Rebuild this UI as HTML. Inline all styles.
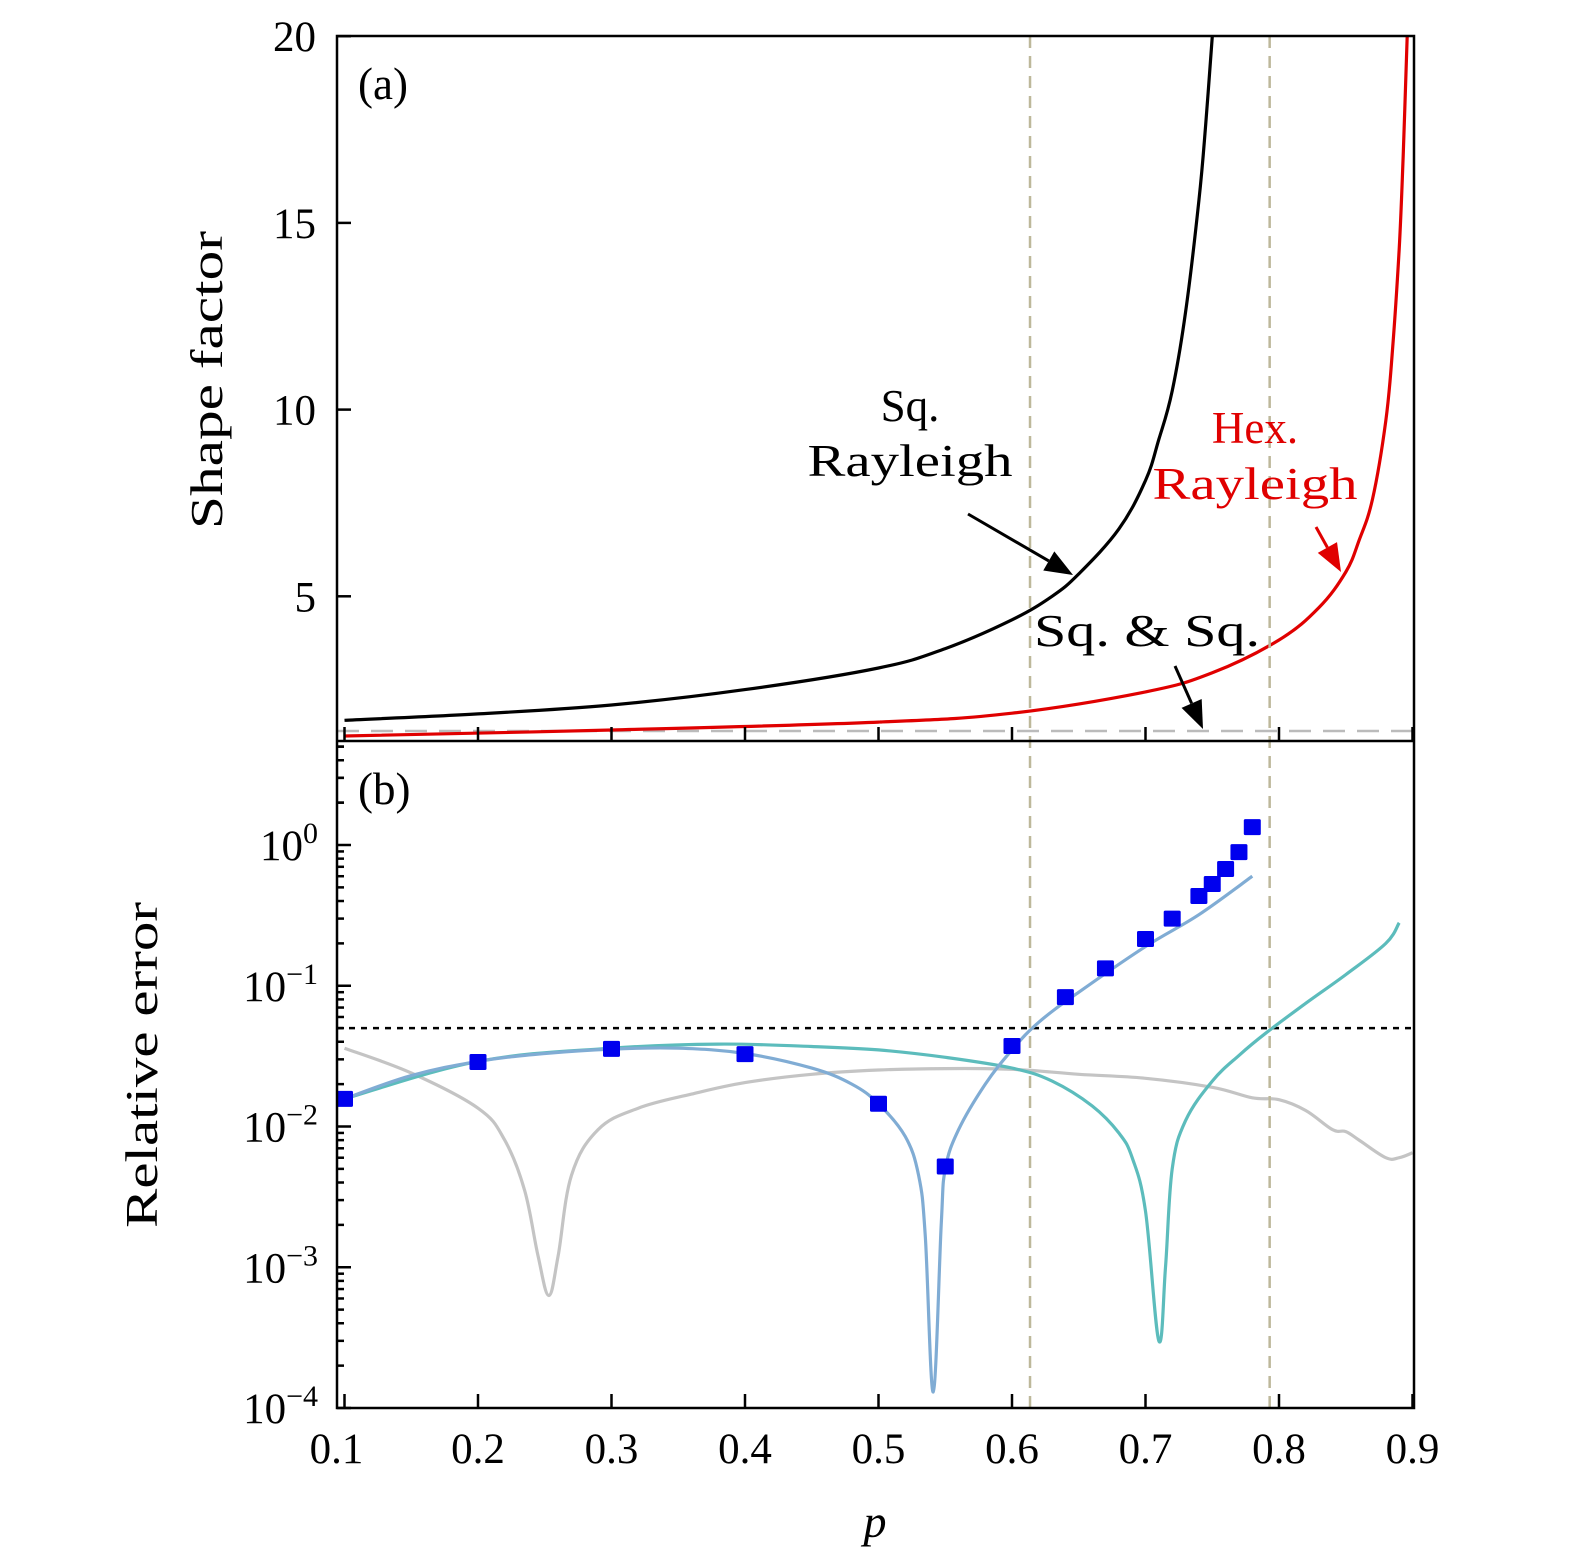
<!DOCTYPE html>
<html><head><meta charset="utf-8"><style>
html,body{margin:0;padding:0;background:#fff;}
svg{display:block;font-family:"Liberation Serif",serif;}
</style></head><body>
<svg id="chart" width="1575" height="1565" viewBox="0 0 1575 1565">
<g id="g"></g>
</svg>
<script>
const xTicks=[0.1,0.2,0.3,0.4,0.5,0.6,0.7,0.8,0.9];
const xTickLabels=["0.1","0.2","0.3","0.4","0.5","0.6","0.7","0.8","0.9"];
const aTicks=[5,10,15,20];
const bDecades=[0,-1,-2,-3,-4];
const sqP=[0.1,0.2,0.3,0.4,0.5,0.55,0.6,0.63,0.65,0.68,0.7,0.71,0.72,0.73,0.74,0.745,0.75];
const sqV=[1.68,1.85,2.09,2.5,3.08,3.6,4.37,5.0,5.6,6.8,8.1,9.2,10.5,12.6,15.6,17.6,20];
const hexP=[0.1,0.3,0.5,0.6,0.7,0.75,0.8,0.83,0.85,0.86,0.87,0.88,0.885,0.89,0.893,0.896];
const hexV=[1.26,1.42,1.63,1.87,2.44,2.95,3.83,4.7,5.65,6.5,7.6,9.7,11.6,14.3,16.8,20];
const vlines=[0.6135,0.793];
const sqPts=[0.1,0.2,0.3,0.4,0.5,0.55,0.6,0.64,0.67,0.7,0.72,0.74,0.75,0.76,0.77,0.78];
const sqErr=[0.0157,0.0287,0.0356,0.0327,0.0145,0.0052,0.0373,0.083,0.133,0.215,0.30,0.434,0.528,0.675,0.89,1.34];
const grayP=[0.1,0.15,0.2,0.22,0.235,0.245,0.253,0.26,0.27,0.29,0.32,0.36,0.4,0.45,0.5,0.55,0.6,0.65,0.7,0.75,0.78,0.8,0.82,0.84,0.85,0.86,0.88,0.89,0.9];
const grayV=[0.036,0.024,0.0135,0.008,0.0035,0.0012,0.00063,0.0012,0.0045,0.0095,0.0135,0.017,0.0205,0.0235,0.0252,0.0258,0.0255,0.0235,0.022,0.019,0.016,0.0155,0.013,0.0095,0.0092,0.008,0.006,0.006,0.0065];
const blueP=[0.1,0.15,0.2,0.25,0.3,0.35,0.4,0.45,0.48,0.5,0.52,0.53,0.535,0.541,0.547,0.55,0.56,0.58,0.6,0.62,0.65,0.7,0.74,0.78];
const blueV=[0.0157,0.023,0.029,0.033,0.0355,0.036,0.033,0.026,0.02,0.0145,0.0085,0.0045,0.0017,0.00013,0.002,0.005,0.0095,0.02,0.035,0.055,0.09,0.19,0.32,0.6];
const tealP=[0.1,0.2,0.3,0.38,0.45,0.5,0.55,0.6,0.63,0.66,0.68,0.69,0.7,0.71,0.715,0.72,0.73,0.75,0.77,0.79,0.82,0.85,0.88,0.89];
const tealV=[0.0157,0.029,0.036,0.0385,0.037,0.035,0.031,0.026,0.021,0.014,0.009,0.006,0.0025,0.0003,0.001,0.005,0.011,0.021,0.032,0.046,0.075,0.12,0.2,0.28];
const threshold=0.05;

const NS="http://www.w3.org/2000/svg";
const g=document.getElementById('g');
const X=p=>344.5+(p-0.1)*1335;
const YA=v=>783-v*37.34;
const YB=v=>845-Math.log10(v)*140.75;
const L=337,R=1414,AT=36,AB=741,BB=1408;
function el(t,a,parent){const e=document.createElementNS(NS,t);for(const k in a)e.setAttribute(k,a[k]);(parent||g).appendChild(e);return e;}
function txt(x,y,s,a){const e=el('text',Object.assign({x:x,y:y},a||{}));e.textContent=s;return e;}
function poly(ps,vs,Y,st){
 const pts=ps.map((p,i)=>[X(p),Y(vs[i])]);
 let d='M'+pts[0][0].toFixed(1)+','+pts[0][1].toFixed(1);
 const t=0.18;
 for(let i=0;i<pts.length-1;i++){
  const p0=pts[Math.max(0,i-1)],p1=pts[i],p2=pts[i+1],p3=pts[Math.min(pts.length-1,i+2)];
  const c1=[p1[0]+(p2[0]-p0[0])*t,p1[1]+(p2[1]-p0[1])*t];
  const c2=[p2[0]-(p3[0]-p1[0])*t,p2[1]-(p3[1]-p1[1])*t];
  d+=' C'+c1.map(v=>v.toFixed(1)).join(',')+' '+c2.map(v=>v.toFixed(1)).join(',')+' '+p2.map(v=>v.toFixed(1)).join(',');
 }
 return el('path',Object.assign({d:d,fill:'none','stroke-linejoin':'round'},st));}

const defs=el('defs',{});
const ca=el('clipPath',{id:'ca'},defs);el('rect',{x:L,y:AT,width:R-L,height:AB-AT},ca);
const cb=el('clipPath',{id:'cb'},defs);el('rect',{x:L,y:AB,width:R-L,height:BB-AB},cb);

const pa=el('g',{'clip-path':'url(#ca)'});


let e=el('line',{x1:L,x2:R,y1:731,y2:731,stroke:'#bbb','stroke-width':2.5,'stroke-dasharray':'22,12'},pa);

e=poly(sqP,sqV,YA,{stroke:'#000','stroke-width':3.2});pa.appendChild(e);

e=poly(hexP,hexV,YA,{stroke:'#e00000','stroke-width':3.2});pa.appendChild(e);


const pb=el('g',{'clip-path':'url(#cb)'});


e=el('line',{x1:L,x2:R,y1:YB(threshold),y2:YB(threshold),stroke:'#000','stroke-width':2.5,'stroke-dasharray':'6,6'},pb);

e=poly(grayP,grayV,YB,{stroke:'#c4c4c4','stroke-width':3.2});pb.appendChild(e);

e=poly(tealP,tealV,YB,{stroke:'#5cbcbc','stroke-width':3.2});pb.appendChild(e);

e=poly(blueP,blueV,YB,{stroke:'#80acd4','stroke-width':3.2});pb.appendChild(e);

sqPts.forEach((p,i)=>{const r=el('rect',{x:X(p)-8.5,y:YB(sqErr[i])-8,width:17,height:16,fill:'#0000ee',rx:1.5},pb);

});

vlines.forEach(p=>{const l=el('line',{x1:X(p),x2:X(p),y1:AT,y2:BB,stroke:'#bdb89a','stroke-width':2.5,'stroke-dasharray':'12,8'});

});

e=el('rect',{x:L,y:AT,width:R-L,height:BB-AT,fill:'none',stroke:'#000','stroke-width':2.5});

el('line',{x1:L,x2:R,y1:AB,y2:AB,stroke:'#000','stroke-width':2.5});

xTicks.forEach((p,i)=>{
 el('line',{x1:X(p),x2:X(p),y1:AB,y2:AB-14,stroke:'#000','stroke-width':2.5});
 el('line',{x1:X(p),x2:X(p),y1:BB,y2:BB-14,stroke:'#000','stroke-width':2.5});
 const t=txt(X(p)-(i==0?8:0),1463,xTickLabels[i],{'font-size':43,'text-anchor':'middle'});
 
});
aTicks.forEach(v=>{
 el('line',{x1:L,x2:L+14,y1:YA(v),y2:YA(v),stroke:'#000','stroke-width':2.5});
 const t=txt(316,YA(v)+15,String(v),{'font-size':43,'text-anchor':'end'});
 
});
bDecades.forEach(d=>{
 const y=YB(Math.pow(10,d));
 el('line',{x1:L,x2:L+14,y1:y,y2:y,stroke:'#000','stroke-width':2.5});
 const t=el('text',{x:318,y:y+15,'font-size':43,'text-anchor':'end'});
 
 const s1=document.createElementNS(NS,'tspan');s1.textContent='10';t.appendChild(s1);
 const s2=document.createElementNS(NS,'tspan');s2.setAttribute('dy','-17');s2.setAttribute('font-size','30');s2.textContent=d==0?'0':'\u2212'+(-d);t.appendChild(s2);
 for(let k=2;k<=9;k++){const yy=YB(k*Math.pow(10,d));if(yy>AB&&yy<BB)el('line',{x1:L,x2:L+7,y1:yy,y2:yy,stroke:'#000','stroke-width':2.5});}
});
for(let k=2;k<=5;k++){const yy=YB(k);el('line',{x1:L,x2:L+7,y1:yy,y2:yy,stroke:'#000','stroke-width':2.5});}

function lab(x,y,s,name,a){const t=txt(x,y,s,a);return t;}
const SG='spacingAndGlyphs';
lab(358,99,'(a)','panel-a-label',{'font-size':45});
lab(358,804,'(b)','panel-b-label',{'font-size':45});
lab(910,421,'Sq.','sq-rayleigh-label',{'font-size':45,'text-anchor':'middle'});
lab(910,476,'Rayleigh','sq-rayleigh-label-2',{'font-size':45,'text-anchor':'middle','textLength':205,'lengthAdjust':SG});
lab(1255,443,'Hex.','hex-rayleigh-label',{'font-size':45,'text-anchor':'middle',fill:'#e00000'});
lab(1255,499,'Rayleigh','hex-rayleigh-label-2',{'font-size':45,'text-anchor':'middle',fill:'#e00000','textLength':205,'lengthAdjust':SG});
lab(1147,646,'Sq. & Sq.','sq-sq-label',{'font-size':45,'text-anchor':'middle','textLength':226,'lengthAdjust':SG});
lab(222,380,'Shape factor','y-axis-title-a',{'font-size':45,'text-anchor':'middle',transform:'rotate(-90 222 380)','textLength':298,'lengthAdjust':SG});
lab(157,1065,'Relative error','y-axis-title-b',{'font-size':45,'text-anchor':'middle',transform:'rotate(-90 157 1065)','textLength':326,'lengthAdjust':SG});
lab(875,1537,'p','x-axis-title',{'font-size':46,'font-style':'italic','text-anchor':'middle'});

function arrow(x1,y1,x2,y2,c,name){
 const a=Math.atan2(y2-y1,x2-x1),h=28,w=11;
 const bx=x2-h*Math.cos(a),by=y2-h*Math.sin(a);
 const gg=el('g',{});
 el('line',{x1:x1,y1:y1,x2:bx,y2:by,stroke:c,'stroke-width':3},gg);
 el('polygon',{points:`${x2},${y2} ${bx-w*Math.sin(a)},${by+w*Math.cos(a)} ${bx+w*Math.sin(a)},${by-w*Math.cos(a)}`,fill:c},gg);
}
arrow(968,514,1073,575,'#000','sq-rayleigh-arrow');
arrow(1316,527,1341,572,'#e00000','hex-rayleigh-arrow');
arrow(1175,666,1203,729,'#000','sq-sq-arrow');
</script>
</body></html>
